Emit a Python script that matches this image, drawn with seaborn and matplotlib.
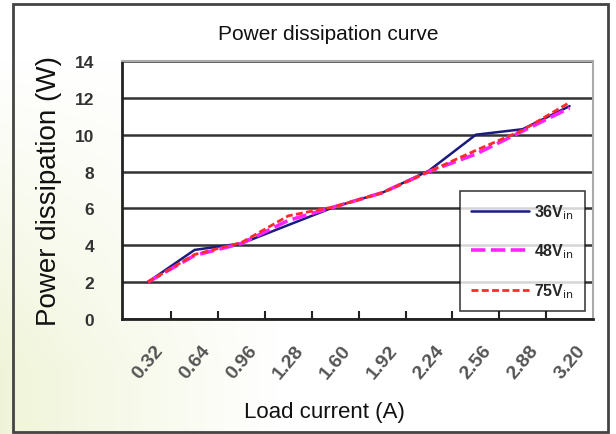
import numpy as np
import pandas as pd
import matplotlib
matplotlib.use("Agg")
import matplotlib.pyplot as plt
import matplotlib.transforms as mtrans
import seaborn as sns
from matplotlib.patches import Rectangle

# Datos
corriente = ["0.32", "0.64", "0.96", "1.28", "1.60", "1.92", "2.24", "2.56", "2.88", "3.20"]
p_36vin = [2.0, 3.75, 4.1, 5.1, 6.1, 6.85, 8.05, 10.0, 10.3, 11.55]
p_48vin = [2.0, 3.45, 4.1, 5.35, 6.1, 6.85, 8.0, 8.95, 10.2, 11.45]
p_75vin = [2.0, 3.5, 4.15, 5.6, 6.1, 6.85, 8.0, 9.15, 10.25, 11.75]
series = ["36V$_{\\rm in}$", "48V$_{\\rm in}$", "75V$_{\\rm in}$"]

df = pd.DataFrame({
    "Load current (A)": corriente * 3,
    "Power dissipation (W)": p_36vin + p_48vin + p_75vin,
    "Serie": [series[0]] * 10 + [series[1]] * 10 + [series[2]] * 10,
})

sns.set_theme(style="white")
plt.rcParams["font.family"] = ["Liberation Sans", "DejaVu Sans"]

fig = plt.figure(figsize=(6.16, 4.35), dpi=100)

# fondo con degradado verde-amarillo en la esquina inferior izquierda
bg = fig.add_axes([0, 0, 1, 1], zorder=-10)
gx, gy = np.meshgrid(np.linspace(0, 1, 300), np.linspace(0, 1, 200))
tinte = np.clip(1 - gx / 0.45, 0, 1) * np.clip(gy * 1.4 - 0.2, 0, 1)
base = np.array([1.0, 1.0, 1.0])
color_t = np.array([0.94, 0.96, 0.85])
img = base[None, None, :] * (1 - tinte[..., None]) + color_t[None, None, :] * tinte[..., None]
bg.imshow(img, aspect="auto", extent=[0, 1, 0, 1], origin="upper")
bg.set_axis_off()

fig.patches.append(Rectangle((13 / 616, 2 / 435), 595 / 616, 428 / 435,
                             transform=fig.transFigure, fill=False,
                             edgecolor="#444444", linewidth=2))

ax = fig.add_axes([122 / 616, 1 - 320 / 435, 471 / 616, 258 / 435])
ax.set_facecolor("white")

sns.lineplot(data=df, x="Load current (A)", y="Power dissipation (W)",
             hue="Serie", style="Serie", size="Serie",
             palette={series[0]: "#1a1a80", series[1]: "#ff22ff", series[2]: "#ff2a2a"},
             dashes={series[0]: "", series[1]: (4, 1.5), series[2]: (2.5, 1.2)},
             sizes={series[0]: 1.8, series[1]: 2.6, series[2]: 2.0},
             ax=ax, sort=False)

ax.set_xlim(-0.55, 9.5)
ax.set_ylim(0, 14)
ax.set_yticks(range(0, 15, 2))
ax.yaxis.grid(True, color="#333333", linewidth=1.8)
ax.set_axisbelow(True)

ax.set_xticks(range(10))
ax.set_xticks(np.arange(0.5, 9.5, 1), minor=True)
ax.tick_params(axis="x", which="major", length=0, pad=16)
ax.tick_params(axis="x", which="minor", length=6, width=1.5, direction="in", color="#222222", bottom=True)
ax.tick_params(axis="y", length=0, pad=20)
desplaza = mtrans.ScaledTranslation(6 / 100, 0, fig.dpi_scale_trans)
for lab in ax.get_xticklabels():
    lab.set_rotation(50)
    lab.set_ha("right")
    lab.set_rotation_mode("anchor")
    lab.set_fontsize(14)
    lab.set_fontweight("bold")
    lab.set_color("#555555")
    lab.set_transform(lab.get_transform() + desplaza)
for lab in ax.get_yticklabels():
    lab.set_fontsize(12.5)
    lab.set_fontweight("bold")
    lab.set_color("#333333")

for side in ["left", "bottom"]:
    ax.spines[side].set_color("#222222")
    ax.spines[side].set_linewidth(2)
for side in ["top", "right"]:
    ax.spines[side].set_color("#aaaaaa")
    ax.spines[side].set_linewidth(1.5)

ax.set_xlabel("Load current (A)", fontsize=16, color="#111111")
ax.xaxis.set_label_coords(0.43, -0.36)
ax.xaxis.label.set_va("center")
ax.set_ylabel("Power dissipation (W)", fontsize=20, color="#111111")
ax.yaxis.set_label_coords(-0.155, 0.5)
ax.yaxis.label.set_va("center")
fig.text(328 / 616, 1 - 35 / 435, "Power dissipation curve", ha="center", va="center",
         fontsize=15, color="#111111")

leg = ax.legend(loc="lower left", bbox_to_anchor=(0.718, 0.031), frameon=True,
                fontsize=11.5, labelspacing=1.3, handlelength=3.6, handletextpad=0.3,
                borderpad=0.7, borderaxespad=0, fancybox=False)
leg.get_frame().set_edgecolor("#111111")
leg.get_frame().set_linewidth(1.2)
for t in leg.get_texts():
    t.set_fontweight("bold")

fig.savefig("out.png", dpi=100)
